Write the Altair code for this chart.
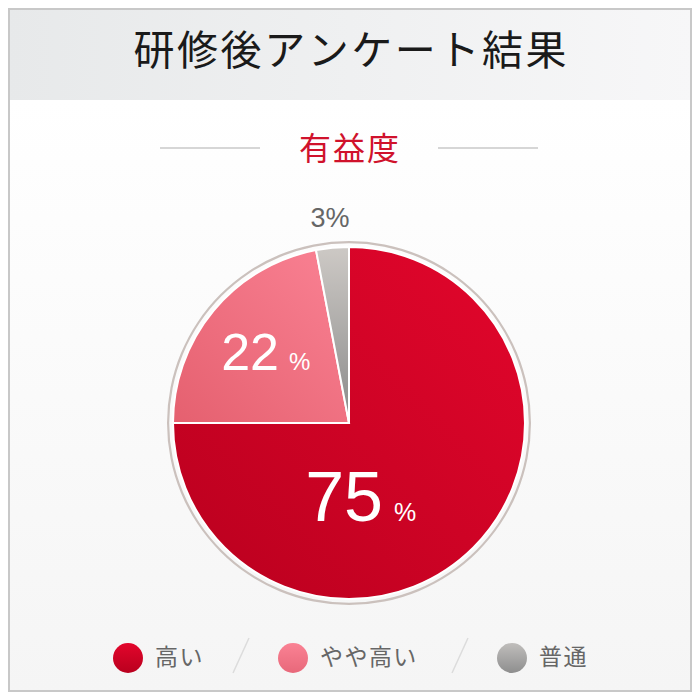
import altair as alt
import pandas as pd

# ---- data ----
categories = ["高い", "やや高い", "普通"]
values = [75, 22, 3]
title_text = "研修後アンケート結果"
subtitle_text = "有益度"

df = pd.DataFrame({"category": categories, "value": values})

# ---- layout helpers (page has 8px margin) ----
W = H = 684
OFF = 8
HAIR = "\u200a"


def px(v):
    return v - OFF


def spaced(s):
    return HAIR.join(list(s))


one = alt.Data(values=[{"a": 1}])
JP = "Noto Sans CJK JP"
NUM = "Liberation Sans"


def grad(c1, c2, x1=0, y1=0, x2=0, y2=1):
    return alt.LinearGradient(
        gradient="linear",
        stops=[alt.GradientStop(color=c1, offset=0), alt.GradientStop(color=c2, offset=1)],
        x1=x1, y1=y1, x2=x2, y2=y2,
    )


slice_grad = {
    "高い": grad("#e3062c", "#b9001e", 1, 0, 0, 1),
    "やや高い": grad("#fa8294", "#e5606f", 1, 0, 0, 1),
    "普通": grad("#cdc9c5", "#8a8a8a", 0, 0, 0, 1),
}
legend_grad = {
    "高い": grad("#e3062c", "#b9001e"),
    "やや高い": grad("#fa8294", "#e8687a"),
    "普通": grad("#c0bebc", "#8e8e8e"),
}

CX, CY = px(349), px(423)

layers = []

# backgrounds
layers.append(
    alt.Chart(one).mark_rect(color=grad("#ffffff", "#f5f5f5")).encode(
        x=alt.value(0), x2=alt.value(W), y=alt.value(px(100)), y2=alt.value(H)
    )
)
layers.append(
    alt.Chart(one).mark_rect(color=grad("#e7e9ea", "#f7f7f8", 0, 0, 1, 0)).encode(
        x=alt.value(0), x2=alt.value(W), y=alt.value(0), y2=alt.value(px(100))
    )
)
layers.append(
    alt.Chart(one).mark_rect(fillOpacity=0, stroke="#c8c8c8", strokeWidth=2).encode(
        x=alt.value(1), x2=alt.value(W - 1), y=alt.value(1), y2=alt.value(H - 1)
    )
)

# title
layers.append(
    alt.Chart(one).mark_text(
        text=spaced(title_text), font=JP, fontSize=41, color="#1a1a1a",
        align="center", baseline="middle",
    ).encode(x=alt.value(px(350)), y=alt.value(px(53)))
)

# subtitle + side rules
layers.append(
    alt.Chart(one).mark_text(
        text=spaced(subtitle_text), font=JP, fontSize=32, color="#d0122c",
        align="center", baseline="middle",
    ).encode(x=alt.value(px(349)), y=alt.value(px(150)))
)
for a, b in [(160, 260), (438, 538)]:
    layers.append(
        alt.Chart(one).mark_rule(color="#c8c8c8", strokeWidth=1.5).encode(
            x=alt.value(px(a)), x2=alt.value(px(b)), y=alt.value(px(148)), y2=alt.value(px(148))
        )
    )

# outer ring
layers.append(
    alt.Chart(one).mark_arc(
        theta=0, theta2=6.2832, innerRadius=179.8, outerRadius=182, color="#cbc1bd"
    ).encode(x=alt.value(CX), y=alt.value(CY))
)

# pie slices
base = (
    alt.Chart(df)
    .transform_window(cum="sum(value)", frame=[None, 0])
    .transform_calculate(start="datum.cum - datum.value")
)
for cat in categories:
    layers.append(
        base.transform_filter(alt.datum.category == cat)
        .mark_arc(outerRadius=176, color=slice_grad[cat], stroke="white", strokeWidth=2)
        .encode(
            theta=alt.Theta("start:Q", scale=alt.Scale(domain=[0, 100])),
            theta2="cum:Q",
            x=alt.value(CX),
            y=alt.value(CY),
        )
    )

# slice labels
# (category, number right x, baseline y, font size, % left x, % size)
label_spec = [
    ("高い", 383, 521, 70, 394, 25),
    ("やや高い", 279, 370, 52, 289, 24),
]
for cat, nx, ny, ns, pxx, ps in label_spec:
    sub = alt.Chart(df).transform_filter(alt.datum.category == cat)
    layers.append(
        sub.mark_text(font=NUM, fontSize=ns, color="white", align="right", baseline="alphabetic")
        .encode(text="value:Q", x=alt.value(px(nx)), y=alt.value(px(ny)))
    )
    layers.append(
        sub.mark_text(text="%", font=NUM, fontSize=ps, color="white", align="left", baseline="alphabetic")
        .encode(x=alt.value(px(pxx)), y=alt.value(px(ny)))
    )
layers.append(
    alt.Chart(df)
    .transform_filter(alt.datum.category == "普通")
    .transform_calculate(lbl="datum.value + '%'")
    .mark_text(font=NUM, fontSize=27, color="#666666", align="center", baseline="alphabetic")
    .encode(text="lbl:N", x=alt.value(px(330)), y=alt.value(px(227)))
)

# legend
legend_pos = {"高い": (128, 155), "やや高い": (293, 320), "普通": (512, 539)}
LY = px(658)
for cat in categories:
    cxl, tx = legend_pos[cat]
    layers.append(
        alt.Chart(one).mark_arc(theta=0, theta2=6.2832, outerRadius=15, color=legend_grad[cat])
        .encode(x=alt.value(px(cxl)), y=alt.value(LY))
    )
    layers.append(
        alt.Chart(df).transform_filter(alt.datum.category == cat)
        .transform_calculate(lbl="join(split(datum.category, ''), '\u200a')")
        .mark_text(font=JP, fontSize=23, color="#666666", align="left", baseline="middle")
        .encode(text="lbl:N", x=alt.value(px(tx)), y=alt.value(LY))
    )
for x_top, x_bot in [(249, 233), (468, 452)]:
    layers.append(
        alt.Chart(one).mark_rule(color="#dcdcdc", strokeWidth=1.5).encode(
            x=alt.value(px(x_top)), y=alt.value(px(638)), x2=alt.value(px(x_bot)), y2=alt.value(px(673))
        )
    )

chart = (
    alt.layer(*layers)
    .properties(width=W, height=H, padding=0, autosize=alt.AutoSizeParams(type="none"), background="white")
    .configure_view(stroke=None)
)

chart.save("out.html", embed_options={"renderer": "svg", "actions": False})
